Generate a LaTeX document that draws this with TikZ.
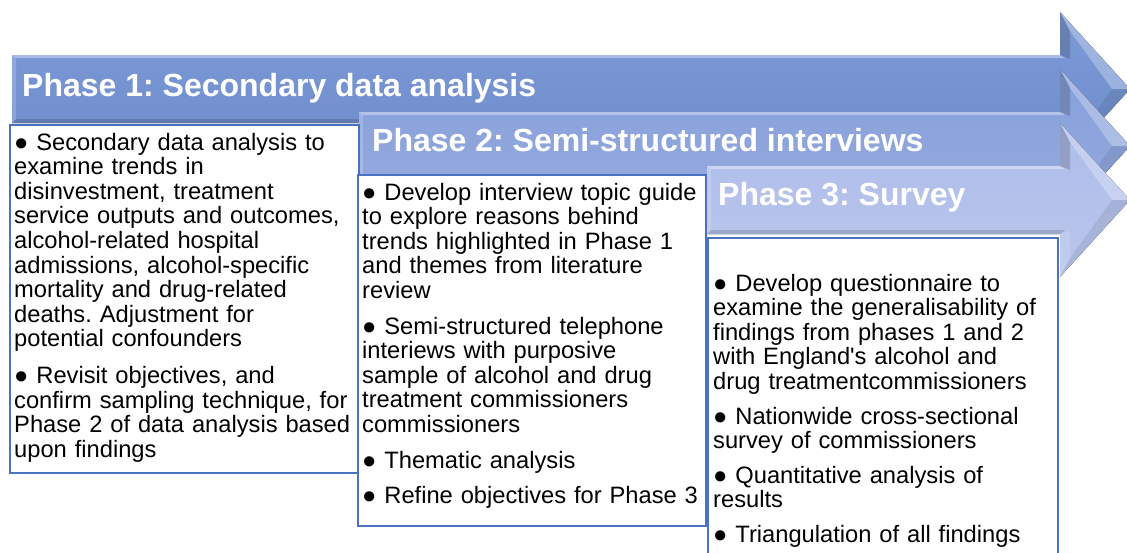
\documentclass[tikz,border=0pt]{standalone}
\usepackage{fontspec}
\setmainfont{Liberation Sans}
\frenchspacing
\definecolor{aoneT}{HTML}{7E9BD8}
\definecolor{aoneB}{HTML}{6D8BCA}
\definecolor{atwoT}{HTML}{86A0DC}
\definecolor{atwoB}{HTML}{97ABDD}
\definecolor{athrT}{HTML}{ADBCEA}
\definecolor{athrB}{HTML}{BAC6EC}
\definecolor{boxblue}{HTML}{4A72C4}
\newcommand\pharrow[4]{%
  \fill[top color=#3, bottom color=#4]
    (#1,#2-34) -- (1060,#2-34) -- (1060,#2-77) -- (1130,#2) -- (1060,#2+77)
    -- (1060,#2+34) -- (#1,#2+34) -- cycle;
  \fill[white, opacity=.35] (#1,#2-34) -- (1060,#2-34) -- (1065,#2-31) -- (#1+4,#2-31) -- cycle;
  \fill[black, opacity=.16] (1060,#2-34) -- (1060,#2-77) -- (1070,#2-58) -- (1070,#2-30) -- cycle;
  \fill[white, opacity=.28] (1060,#2-77) -- (1130,#2) -- (1112,#2) -- (1070,#2-58) -- cycle;
  \fill[black, opacity=.08] (1130,#2) -- (1060,#2+77) -- (1070,#2+58) -- (1112,#2) -- cycle;
  \fill[white, opacity=.12] (1060,#2+77) -- (1060,#2+34) -- (1070,#2+30) -- (1070,#2+58) -- cycle;
  \fill[black, opacity=.14] (1060,#2+34) -- (#1,#2+34) -- (#1+4,#2+30) -- (1065,#2+30) -- cycle;
  \fill[white, opacity=.18] (#1,#2+34) -- (#1,#2-34) -- (#1+4,#2-31) -- (#1+4,#2+30) -- cycle;
}
\tikzset{
  phasebox/.style={draw=boxblue, line width=2pt, fill=white, anchor=north west, inner sep=0pt},
  bodytext/.style={font=\fontsize{23.7}{24.6}\selectfont, text width=345pt, align=left,
    inner sep=0pt, anchor=base west, text=black},
  phasetitle/.style={font=\fontsize{32}{36}\selectfont\bfseries, text=white, inner sep=0pt,
    anchor=base west}
}
\begin{document}
\begin{tikzpicture}[x=1pt, y=-1pt]
\useasboundingbox (0,0) rectangle (1127,552);
\clip (0,0) rectangle (1127,552);
\pharrow{12}{89}{aoneT}{aoneB}
\pharrow{359}{146}{atwoT}{atwoB}
\pharrow{707}{200}{athrT}{athrB}
\node[phasetitle] (title1) at (22,96.7) {Phase 1: Secondary data analysis};
\node[phasetitle] (title2) at (372,151.7) {Phase 2: Semi-structured interviews};
\node[phasetitle] (title3) at (718,205) {Phase 3: Survey};
\node[phasebox, minimum width=349pt, minimum height=348pt] (box1) at (9,124) {};
\node[phasebox, minimum width=348pt, minimum height=351pt] (box2) at (357,174) {};
\node[phasebox, minimum width=350pt, minimum height=380pt] (box3) at (707,237) {};
\node[bodytext] (text1) at ([xshift=5pt,yshift=-26pt]box1.north west) {%
● Secondary data analysis to\\
examine trends in\\
disinvestment, treatment\\
service outputs and outcomes,\\
alcohol-related hospital\\
admissions, alcohol-specific\\
mortality and drug-related\\
deaths. Adjustment for\\
potential confounders\\[12pt]
● Revisit objectives, and\\
confirm sampling technique, for\\
Phase 2 of data analysis based\\
upon findings};
\node[bodytext] (text2) at ([xshift=5pt,yshift=-26pt]box2.north west) {%
● Develop interview topic guide\\
to explore reasons behind\\
trends highlighted in Phase 1\\
and themes from literature\\
review\\[11pt]
● Semi-structured telephone\\
interiews with purposive\\
sample of alcohol and drug\\
treatment commissioners\\
commissioners\\[11pt]
● Thematic analysis\\[10.5pt]
● Refine objectives for Phase 3};
\node[bodytext] (text3) at ([xshift=6pt,yshift=-54pt]box3.north west) {%
● Develop questionnaire to\\
examine the generalisability of\\
findings from phases 1 and 2\\
with England\textquotesingle s alcohol and\\
drug treatmentcommissioners\\[10pt]
● Nationwide cross-sectional\\
survey of commissioners\\[10pt]
● Quantitative analysis of\\
results\\[10pt]
● Triangulation of all findings};
\end{tikzpicture}
\end{document}
